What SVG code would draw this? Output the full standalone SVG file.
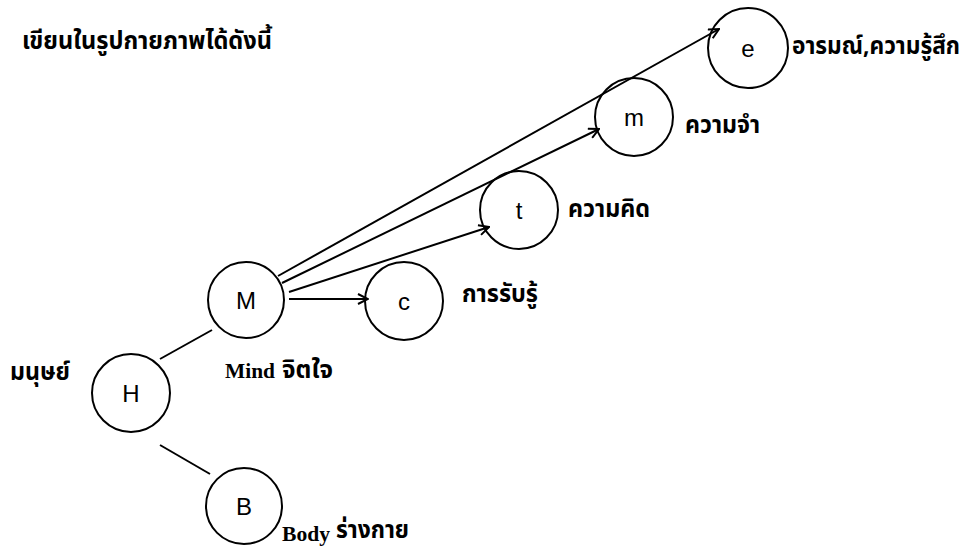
<svg xmlns="http://www.w3.org/2000/svg" width="968" height="549" viewBox="0 0 968 549">
<style>
.node circle{fill:none;stroke:#000;stroke-width:2}
.sym{font-family:"Liberation Sans",Arial,sans-serif;font-size:24px;fill:#000;text-anchor:middle}
.th{font-family:"Noto Sans Thai","Noto Sans","DejaVu Sans",sans-serif;font-weight:bold;font-size:24px;fill:#000}
.en{font-family:"Liberation Serif","Times New Roman",serif;font-weight:bold;font-size:22px;fill:#000}
.edge{stroke:#000;stroke-width:2;fill:none}
</style>
<defs>
<marker id="arr" viewBox="0 0 12 12" refX="11" refY="6" markerWidth="12" markerHeight="12" markerUnits="userSpaceOnUse" orient="auto">
<path d="M1,1 L11,6 L1,11" fill="none" stroke="#000" stroke-width="2"/>
</marker>
</defs>
<rect width="968" height="549" fill="#fff"/>
<text class="th" x="22" y="49" textLength="250" lengthAdjust="spacingAndGlyphs">เขียนในรูปกายภาพได้ดังนี้</text>
<g id="connectors">
<line class="edge" x1="160" y1="359" x2="212" y2="330"/>
<line class="edge" x1="160" y1="445" x2="210" y2="474"/>
<line class="edge" x1="278" y1="276" x2="719" y2="29" marker-end="url(#arr)"/>
<line class="edge" x1="282" y1="283" x2="599" y2="129" marker-end="url(#arr)"/>
<line class="edge" x1="289" y1="292" x2="489" y2="227" marker-end="url(#arr)"/>
<line class="edge" x1="289" y1="299" x2="368" y2="299" marker-end="url(#arr)"/>
</g>
<g id="node-H" class="node">
<circle cx="131" cy="393" r="39"/>
<text class="sym" x="131" y="402">H</text>
<text class="th" x="10" y="380" textLength="60" lengthAdjust="spacingAndGlyphs">มนุษย์</text>
</g>
<g id="node-M" class="node">
<circle cx="246" cy="300" r="38"/>
<text class="sym" x="246" y="309">M</text>
<text class="en" x="225" y="378" textLength="50" lengthAdjust="spacingAndGlyphs">Mind</text>
<text class="th" x="282" y="378" textLength="51" lengthAdjust="spacingAndGlyphs">จิตใจ</text>
</g>
<g id="node-B" class="node">
<circle cx="244" cy="506" r="38"/>
<text class="sym" x="244" y="515">B</text>
<text class="en" x="282" y="541" textLength="48" lengthAdjust="spacingAndGlyphs">Body</text>
<text class="th" x="336" y="538" font-size="20" textLength="73" lengthAdjust="spacingAndGlyphs">ร่างกาย</text>
</g>
<g id="node-c" class="node">
<circle cx="404" cy="301" r="39"/>
<text class="sym" x="404" y="310">c</text>
<text class="th" x="462" y="302" textLength="76" lengthAdjust="spacingAndGlyphs">การรับรู้</text>
</g>
<g id="node-t" class="node">
<circle cx="519" cy="210" r="39"/>
<text class="sym" x="519" y="219">t</text>
<text class="th" x="568" y="217" textLength="82" lengthAdjust="spacingAndGlyphs">ความคิด</text>
</g>
<g id="node-m" class="node">
<circle cx="634" cy="117" r="39"/>
<text class="sym" x="634" y="126">m</text>
<text class="th" x="685" y="133" textLength="75" lengthAdjust="spacingAndGlyphs">ความจำ</text>
</g>
<g id="node-e" class="node">
<circle cx="748" cy="48" r="40"/>
<text class="sym" x="748" y="57">e</text>
<text class="th" x="792" y="54" font-size="21" textLength="168" lengthAdjust="spacingAndGlyphs">อารมณ์,ความรู้สึก</text>
</g>
</svg>
